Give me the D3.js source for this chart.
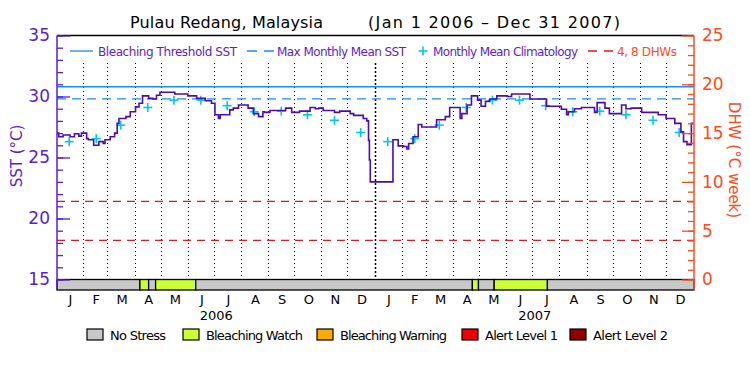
<!DOCTYPE html>
<html lang="en">
<head>
    <meta charset="utf-8">
    <title>Pulau Redang SST and DHW</title>
    <script src="https://cdn.jsdelivr.net/npm/d3@7"></script>
    <style>
        body { margin: 0; background: #fff; }
        text { font-family: "DejaVu Sans", sans-serif; }
    </style>
</head>
<body>
    <svg width="750" height="375"></svg>

    <script>
        // ---- data ----
        var sstDates = [
            "2006-01-01","2006-01-03","2006-01-08","2006-01-16","2006-01-21","2006-01-26","2006-01-29",
            "2006-02-04","2006-02-06","2006-02-12","2006-02-18","2006-02-23","2006-02-25",
            "2006-03-03","2006-03-08","2006-03-11","2006-03-13","2006-03-21","2006-03-26",
            "2006-04-01","2006-04-05","2006-04-09","2006-04-16","2006-04-21","2006-04-25","2006-04-29",
            "2006-05-16","2006-05-31","2006-06-10","2006-06-20","2006-06-27",
            "2006-07-01","2006-07-05","2006-07-07","2006-07-18","2006-07-22","2006-07-28",
            "2006-08-08","2006-08-14","2006-08-20","2006-08-25","2006-08-27",
            "2006-09-02","2006-09-20","2006-09-27","2006-10-06","2006-10-18","2006-10-24","2006-10-28",
            "2006-11-02","2006-11-15","2006-11-21","2006-12-03","2006-12-07","2006-12-18","2006-12-22",
            "2006-12-24","2006-12-25","2006-12-26",
            "2007-01-21","2007-01-27","2007-02-02","2007-02-06","2007-02-08","2007-02-13","2007-02-19","2007-02-23",
            "2007-03-12","2007-03-22","2007-03-27","2007-04-08","2007-04-10","2007-04-16","2007-04-21","2007-04-28",
            "2007-05-02","2007-05-07","2007-05-12","2007-05-20","2007-06-01","2007-06-06","2007-06-27",
            "2007-07-16","2007-08-02","2007-08-08","2007-08-10","2007-08-17","2007-08-25",
            "2007-09-09","2007-09-12","2007-09-21","2007-09-26","2007-10-10","2007-10-15","2007-10-21",
            "2007-11-02","2007-11-21","2007-11-30","2007-12-10","2007-12-17","2007-12-20","2007-12-24",
            "2007-12-29","2007-12-31"
        ];
        var sstValues = [
            27.0, 26.7, 26.85, 26.7, 26.95, 26.75, 27.0,
            26.55, 26.45, 26.0, 26.3, 26.15, 26.45,
            26.7, 27.0, 27.8, 28.2, 28.35, 28.75,
            29.15, 29.45, 30.05, 29.85, 29.8, 30.1, 30.35,
            30.2, 30.05, 29.85, 29.65, 29.45,
            28.5, 28.2, 28.5, 28.9, 29.05, 29.3,
            29.05, 28.6, 28.35, 28.75, 28.7,
            28.85, 29.05, 28.7, 28.8, 29.1, 29.0, 29.05,
            28.85, 28.7, 28.8, 28.6, 28.45, 28.2, 28.0,
            26.4, 24.8, 23.0,
            26.45, 25.95, 25.9, 25.7, 26.15, 26.7, 27.7, 27.5,
            28.1, 28.35, 29.1, 28.2, 28.6, 29.3, 30.05, 29.7,
            29.2, 29.6, 29.8, 30.05, 30.0, 30.2, 29.8,
            29.2, 28.95, 28.5, 28.75, 29.0, 29.1,
            28.7, 29.5, 29.05, 28.6, 29.3, 29.0, 29.05,
            28.7, 28.5, 28.2, 27.8, 27.1, 26.3, 26.05,
            27.8, 27.8
        ];

        var climValues = [26.3, 26.55, 27.65, 29.1, 29.7, 29.7, 29.25, 28.75, 28.8, 28.5, 28.05, 27.05];
        var years = ["2006", "2007"];
        var monthLetters = ["J","F","M","A","M","J","J","A","S","O","N","D"];

        var mmm = 29.8;
        var bleachingThreshold = 30.8;
        var dhwLevels = [4, 8];

        var stressStart = ["2006-01-01","2006-04-06","2006-04-16","2006-04-24","2006-06-09","2007-04-22","2007-04-29","2007-05-17","2007-07-17"];
        var stressEnd   = ["2006-04-06","2006-04-16","2006-04-24","2006-06-09","2007-04-22","2007-04-29","2007-05-17","2007-07-17","2008-01-01"];
        var stressLevel = [0, 1, 0, 1, 0, 1, 0, 1, 0];

        var stressNames = ["No Stress","Bleaching Watch","Bleaching Warning","Alert Level 1","Alert Level 2"];
        var stressColors = ["#c8c8c8","#ccff33","#fcaa00","#f00000","#900000"];

        // ---- setup ----
        var svg = d3.select("svg");
        var parse = d3.utcParse("%Y-%m-%d");
        var purple = "#5a1ed2", lineCol = "#4a0cb0", blue = "#1a8cff",
            cyan = "#00c4f4", red = "#e01818", orange = "#ff4a1e";

        var plotL = 57, plotR = 694, plotT = 35.5, plotB = 279.5, stripB = 290;

        var x = d3.scaleUtc()
            .domain([parse("2006-01-01"), parse("2008-01-01")])
            .range([plotL, plotR]);
        var ySst = d3.scaleLinear().domain([15, 35]).range([plotB, plotT]);
        var yDhw = d3.scaleLinear().domain([0, 25]).range([plotB, plotT]);

        // title
        svg.append("text").attr("x", 130).attr("y", 28).attr("font-size", 16)
            .attr("textLength", 193).text("Pulau Redang, Malaysia");
        svg.append("text").attr("x", 368).attr("y", 28).attr("font-size", 16)
            .attr("textLength", 252).text("(Jan 1 2006 \u2013 Dec 31 2007)");

        // month dotted lines
        var monthStarts = d3.utcMonth.range(parse("2006-02-01"), parse("2008-01-01"));
        svg.append("g").selectAll("line")
            .data(monthStarts)
            .enter().append("line")
            .attr("x1", function(d){ return Math.round(x(d)) - 0.5; })
            .attr("x2", function(d){ return Math.round(x(d)) - 0.5; })
            .attr("y1", 63).attr("y2", plotB)
            .attr("stroke", "#000")
            .attr("stroke-width", function(d){ return d.getUTCMonth() === 0 ? 1.5 : 1; })
            .attr("stroke-dasharray", function(d){ return d.getUTCMonth() === 0 ? "2,2" : "1,3"; });

        // reference lines
        svg.append("line").attr("x1", plotL).attr("x2", plotR)
            .attr("y1", ySst(bleachingThreshold)).attr("y2", ySst(bleachingThreshold))
            .attr("stroke", blue).attr("stroke-width", 1.3);
        svg.append("line").attr("x1", plotL).attr("x2", plotR)
            .attr("y1", ySst(mmm)).attr("y2", ySst(mmm))
            .attr("stroke", blue).attr("stroke-width", 1.3).attr("stroke-dasharray", "9,6");
        svg.append("g").selectAll("line")
            .data(dhwLevels)
            .enter().append("line")
            .attr("x1", plotL).attr("x2", plotR)
            .attr("y1", function(d){ return yDhw(d); })
            .attr("y2", function(d){ return yDhw(d); })
            .attr("stroke", red).attr("stroke-width", 1.3).attr("stroke-dasharray", "8,6");

        // climatology crosses (mid-month, both years)
        var clim = [];
        years.forEach(function(yr){
            climValues.forEach(function(v, i){
                clim.push({ date: d3.utcDay.offset(d3.utcMonth.offset(parse(yr + "-01-01"), i), 14), v: v });
            });
        });
        var crosses = svg.append("g").attr("stroke", cyan).attr("stroke-width", 1.6);
        clim.forEach(function(d){
            var cx = x(d.date), cy = ySst(d.v);
            crosses.append("line").attr("x1", cx - 4.5).attr("x2", cx + 4.5).attr("y1", cy).attr("y2", cy);
            crosses.append("line").attr("x1", cx).attr("x2", cx).attr("y1", cy - 4.5).attr("y2", cy + 4.5);
        });

        // SST line
        var sst = sstDates.map(function(d, i){ return { date: parse(d), v: sstValues[i] }; });
        svg.append("path")
            .datum(sst)
            .attr("fill", "none")
            .attr("stroke", lineCol)
            .attr("stroke-width", 1.6)
            .attr("d", d3.line()
                .curve(d3.curveStepAfter)
                .x(function(d){ return x(d.date); })
                .y(function(d){ return ySst(d.v); }));

        // stress strip
        svg.append("g").selectAll("rect")
            .data(stressLevel)
            .enter().append("rect")
            .attr("x", function(d, i){ return x(parse(stressStart[i])); })
            .attr("width", function(d, i){ return x(parse(stressEnd[i])) - x(parse(stressStart[i])); })
            .attr("y", plotB).attr("height", stripB - plotB)
            .attr("fill", function(d){ return stressColors[d]; })
            .attr("stroke", "#000").attr("stroke-width", 1.3);

        // top frame
        svg.append("line").attr("x1", plotL).attr("x2", plotR).attr("y1", plotT).attr("y2", plotT)
            .attr("stroke", "#000").attr("stroke-width", 1.3);

        // axes
        function styleAxis(g, col) {
            g.select(".domain").remove();
            g.selectAll("line").attr("stroke", col).attr("stroke-width", 1.3);
            g.selectAll("text").attr("fill", col).attr("font-size", 17)
                .attr("font-family", "DejaVu Sans");
        }
        svg.append("g").attr("transform", "translate(" + plotL + ",0)")
            .call(d3.axisLeft(ySst).tickValues(d3.range(15, 36, 1)).tickSize(-6).tickFormat(""))
            .call(styleAxis, purple);
        svg.append("g").attr("transform", "translate(" + plotL + ",0)")
            .call(d3.axisLeft(ySst).tickValues([15, 20, 25, 30, 35]).tickSize(-13).tickPadding(7))
            .call(styleAxis, purple);
        svg.append("line").attr("x1", plotL).attr("x2", plotL).attr("y1", plotT).attr("y2", stripB)
            .attr("stroke", purple).attr("stroke-width", 1.5);

        svg.append("g").attr("transform", "translate(" + plotR + ",0)")
            .call(d3.axisRight(yDhw).tickValues(d3.range(0, 26, 1)).tickSize(-6).tickFormat(""))
            .call(styleAxis, orange);
        svg.append("g").attr("transform", "translate(" + plotR + ",0)")
            .call(d3.axisRight(yDhw).tickValues([0, 5, 10, 15, 20, 25]).tickSize(-12).tickPadding(8))
            .call(styleAxis, orange);
        svg.append("line").attr("x1", plotR).attr("x2", plotR).attr("y1", plotT).attr("y2", stripB)
            .attr("stroke", orange).attr("stroke-width", 1.5);

        // axis titles
        svg.append("text").attr("transform", "translate(22,156) rotate(-90)")
            .attr("text-anchor", "middle").attr("font-size", 15).attr("fill", purple)
            .text("SST (\u00B0C)");
        svg.append("text").attr("transform", "translate(729,160) rotate(90)")
            .attr("text-anchor", "middle").attr("font-size", 15).attr("fill", orange)
            .text("DHW (\u00B0C week)");

        // month letters and years
        var months = d3.utcMonth.range(parse("2006-01-01"), parse("2008-01-01"));
        svg.append("g").selectAll("text")
            .data(months)
            .enter().append("text")
            .attr("x", function(d){ return (x(d) + x(d3.utcMonth.offset(d, 1))) / 2; })
            .attr("y", 304)
            .attr("text-anchor", "middle").attr("font-size", 13)
            .text(function(d){ return monthLetters[d.getUTCMonth()]; });
        svg.append("g").selectAll("text")
            .data(years)
            .enter().append("text")
            .attr("x", function(d){ return (x(parse(d + "-01-01")) + x(parse((+d + 1) + "-01-01"))) / 2; })
            .attr("y", 320)
            .attr("text-anchor", "middle").attr("font-size", 13)
            .text(function(d){ return d; });

        // top legend
        var lg = svg.append("g").attr("font-size", 12);
        var ly = 51;
        lg.append("line").attr("x1", 70).attr("x2", 93).attr("y1", ly).attr("y2", ly)
            .attr("stroke", blue).attr("stroke-width", 1.3);
        lg.append("text").attr("x", 98).attr("y", ly + 4.5).attr("fill", purple)
            .attr("textLength", 139).text("Bleaching Threshold SST");
        lg.append("line").attr("x1", 247).attr("x2", 275).attr("y1", ly).attr("y2", ly)
            .attr("stroke", blue).attr("stroke-width", 1.3).attr("stroke-dasharray", "10,7");
        lg.append("text").attr("x", 277).attr("y", ly + 4.5).attr("fill", purple)
            .attr("textLength", 129).text("Max Monthly Mean SST");
        lg.append("line").attr("x1", 418.5).attr("x2", 427.5).attr("y1", ly).attr("y2", ly)
            .attr("stroke", cyan).attr("stroke-width", 1.6);
        lg.append("line").attr("x1", 423).attr("x2", 423).attr("y1", ly - 4.5).attr("y2", ly + 4.5)
            .attr("stroke", cyan).attr("stroke-width", 1.6);
        lg.append("text").attr("x", 433).attr("y", ly + 4.5).attr("fill", purple)
            .attr("textLength", 145).text("Monthly Mean Climatology");
        lg.append("line").attr("x1", 588).attr("x2", 613).attr("y1", ly).attr("y2", ly)
            .attr("stroke", red).attr("stroke-width", 1.3).attr("stroke-dasharray", "9,7");
        lg.append("text").attr("x", 617).attr("y", ly + 4.5).attr("fill", orange)
            .attr("textLength", 60).text("4, 8 DHWs");

        // bottom legend
        var legX = [87, 183, 317, 462, 570];
        var legTextLen = [56, 97, 107, 73, 75];
        var bl = svg.append("g").selectAll("g")
            .data(stressNames)
            .enter().append("g")
            .attr("transform", function(d, i){ return "translate(" + legX[i] + ",329)"; });
        bl.append("rect").attr("width", 16).attr("height", 11)
            .attr("fill", function(d, i){ return stressColors[i]; })
            .attr("stroke", "#000").attr("stroke-width", 1.2);
        bl.append("text").attr("x", 23).attr("y", 10.5).attr("font-size", 13)
            .attr("textLength", function(d, i){ return legTextLen[i]; })
            .text(function(d){ return d; });
    </script>
</body>
</html>
